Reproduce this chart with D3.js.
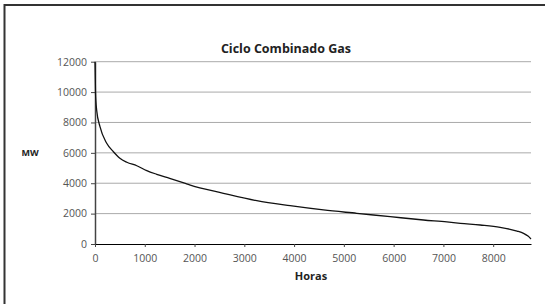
<!DOCTYPE html>
<html lang="es">
  <head>
    <title>ciclo_combinado</title>
    <script src="https://d3js.org/d3.v7.min.js"></script>
    <style>
      body {margin:0; background-color:white; overflow:hidden;}
      .tick text {font-family:"Open Sans", sans-serif; font-size:10.5px; fill:#555;}
      .label {font-family:"Open Sans", sans-serif; font-weight:bold; fill:#222;}
    </style>
  </head>
  <body>
    <script>
      // curva monotona de carga
      var horas = [0, 10, 33, 100, 235, 370, 500, 640, 840, 1040, 1240, 1500, 1800, 1900, 2580, 3250, 3920, 4590, 5260, 5930, 6600, 7070, 7340, 7740, 8140, 8340, 8480, 8610, 8700, 8760];
      var mw = [12000, 10000, 8820, 7720, 6630, 6075, 5640, 5380, 5150, 4830, 4590, 4320, 4000, 3890, 3340, 2850, 2520, 2240, 2020, 1800, 1580, 1450, 1360, 1250, 1100, 970, 850, 700, 520, 330];
      var xTicks = [0, 1000, 2000, 3000, 4000, 5000, 6000, 7000, 8000];
      var yTicks = [0, 2000, 4000, 6000, 8000, 10000, 12000];

      const width = 545;
      const height = 304;
      const margin = {top: 61.7, left: 95, bottom: 60, right: 14};

      var data = [];
      for (var i = 0; i < horas.length; i++) {
        data[i] = {h: horas[i], v: mw[i]};
      }

      const x = d3.scaleLinear()
        .domain([0, 8760])
        .range([margin.left, width - margin.right]);

      const y = d3.scaleLinear()
        .domain([0, 12000])
        .range([height - margin.bottom, margin.top]);

      const svg = d3.select('body').append('svg').attr('width', width).attr('height', height);

      // marco
      svg.append('rect')
        .attr('x', 4.5).attr('y', 5)
        .attr('width', 600).attr('height', 400)
        .attr('fill', 'none').attr('stroke', '#333').attr('stroke-width', 2);

      // rejilla
      svg.append('g')
        .selectAll('line').data(yTicks.slice(1)).enter().append('line')
        .attr('x1', x(0)).attr('x2', x(8760))
        .attr('y1', d => y(d)).attr('y2', d => y(d))
        .attr('stroke', '#aaa').attr('stroke-width', 1);

      const yAxis = g => g
        .attr('transform', `translate(${margin.left}, 0)`)
        .call(d3.axisLeft(y).tickValues(yTicks).tickSize(4).tickPadding(4).tickSizeOuter(0).tickFormat(d3.format('d')))
        .call(g => g.select('.domain').attr('stroke', '#444').attr('stroke-width', 1.5))
        .call(g => g.selectAll('.tick line').attr('stroke', '#444'));

      const xAxis = g => g
        .attr('transform', `translate(0, ${y(0)})`)
        .call(d3.axisBottom(x).tickValues(xTicks).tickSize(3).tickPadding(8).tickSizeOuter(0).tickFormat(d3.format('d')))
        .call(g => g.select('.domain').attr('stroke', '#000').attr('stroke-width', 1.2))
        .call(g => g.selectAll('.tick line').attr('stroke', '#444'));

      svg.append('g').call(yAxis);
      svg.append('g').call(xAxis);

      const line = d3.line()
        .x(d => x(d.h))
        .y(d => y(d.v))
        .curve(d3.curveMonotoneX);

      svg.append('path')
        .datum(data)
        .attr('fill', 'none')
        .attr('stroke', '#111')
        .attr('stroke-width', 1.3)
        .attr('d', line);

      svg.append('text').attr('class', 'label')
        .attr('x', 286).attr('y', 52.5)
        .attr('text-anchor', 'middle').style('font-size', '12.5px')
        .text('Ciclo Combinado Gas');

      svg.append('text').attr('class', 'label')
        .attr('x', 30).attr('y', 155.5)
        .attr('text-anchor', 'middle').style('font-size', '9px')
        .text('MW');

      svg.append('text').attr('class', 'label')
        .attr('x', 311).attr('y', 280)
        .attr('text-anchor', 'middle').style('font-size', '11px')
        .text('Horas');
    </script>
  </body>
</html>
